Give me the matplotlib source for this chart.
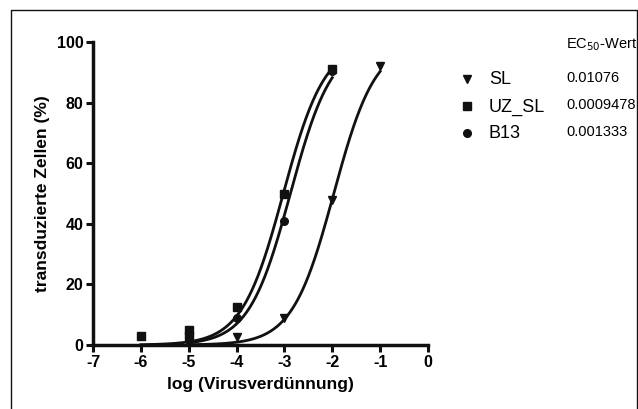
import numpy as np
import matplotlib
matplotlib.use("Agg")
import matplotlib.pyplot as plt
from matplotlib.lines import Line2D

plt.rcParams['font.family'] = ['Liberation Sans', 'DejaVu Sans']
plt.rcParams['axes.unicode_minus'] = False

# Data
series = ["SL", "UZ_SL", "B13"]
ec50 = [0.01076, 0.0009478, 0.001333]
ec50_labels = ["0.01076", "0.0009478", "0.001333"]
hill = [1.0, 1.0, 1.0]
markers = ["v", "s", "o"]

sl_x = [-5, -4, -3, -2, -1]
sl_y = [1.0, 2.5, 9.0, 48.0, 92.0]
uz_x = [-6, -5, -5, -4, -3, -2]
uz_y = [3.0, 5.0, 3.0, 12.5, 50.0, 91.0]
b13_x = [-5, -4, -3, -2]
b13_y = [1.5, 9.0, 41.0, 90.5]

curve_start = [-5.0, -6.0, -5.0]
curve_end = [-1.0, -2.0, -2.0]

xs = [sl_x, uz_x, b13_x]
ys = [sl_y, uz_y, b13_y]

W, H = 638, 409
fig = plt.figure(figsize=(W/100, H/100), dpi=100)
ax = fig.add_axes([93/W, 1-345/H, (428-93)/W, (345-42)/H])

for i in range(3):
    xc = np.linspace(curve_start[i], curve_end[i], 300)
    yc = 100.0 / (1 + 10 ** ((np.log10(ec50[i]) - xc) * hill[i]))
    ax.plot(xc, yc, color='#111111', lw=2.0, zorder=2)
    ax.plot(xs[i], ys[i], linestyle='none', marker=markers[i], color='#111111',
            markersize=5.5, zorder=3, clip_on=False)

ax.set_xlim(-7, 0)
ax.set_ylim(0, 100)
ax.set_xticks(range(-7, 1))
ax.set_yticks(range(0, 101, 20))
for s in ['top', 'right']:
    ax.spines[s].set_visible(False)
for s in ['left', 'bottom']:
    ax.spines[s].set_linewidth(2.5)
    ax.spines[s].set_color('#111111')
ax.tick_params(width=2.2, length=5, color='#111111', labelsize=11.5, pad=2)
for lab in ax.get_xticklabels() + ax.get_yticklabels():
    lab.set_fontweight('bold')
ax.set_xlabel("log (Virusverdünnung)", fontsize=12.5, fontweight='bold', labelpad=5)
ax.set_ylabel("transduzierte Zellen (%)", fontsize=12.5, fontweight='bold', labelpad=5)

# Legend-like annotation
leg_y = [79, 106, 133]
for i in range(3):
    fig.add_artist(Line2D([467/W], [1-leg_y[i]/H], marker=markers[i], color='#111111',
                          markersize=5.5, linestyle='none'))
    fig.text(489/W, 1-(leg_y[i]+1)/H, series[i], fontsize=13, va='center', ha='left')
    fig.text(566/W, 1-(leg_y[i]-1)/H, ec50_labels[i], fontsize=10.5, va='center', ha='left')
fig.text(566/W, 1-45/H, r"EC$_{50}$-Wert", fontsize=10.5, va='center', ha='left')

# Figure border (left, top, right)
fig.add_artist(Line2D([11/W, 11/W, 636.5/W, 636.5/W], [0, 1-10/H, 1-10/H, 0],
                      color='#111111', lw=1.0))

fig.savefig("out.png", dpi=100)
